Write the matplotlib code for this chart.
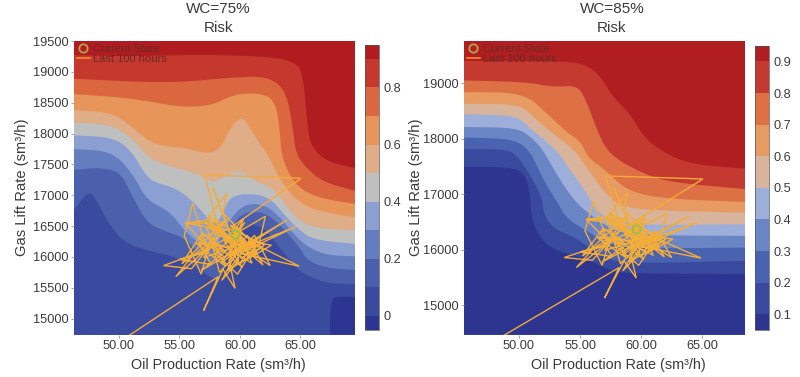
import numpy as np
import matplotlib
matplotlib.use("Agg")
import matplotlib.pyplot as plt
from matplotlib.cm import ScalarMappable
from matplotlib.colors import BoundaryNorm, ListedColormap
from matplotlib.lines import Line2D

plt.rcParams['font.family'] = ['Liberation Sans', 'DejaVu Sans']

# risk level curves as (oil rate, gas lift rate)
left_90 = [(46.3,19270),(51.2,19250),(56.7,19280),(62.2,19250),(64.4,19170),(65.2,19000),(65.6,18060),(65.9,17790),(67.1,17550),(69.5,17440)]
left_80 = [(46.3,18890),(51.2,18840),(55.0,18830),(59.4,18910),(62.2,18930),(63.8,18710),(64.4,18060),(64.6,17680),(65.5,17440),(66.8,17220),(69.5,17070)]
left_70 = [(46.3,18640),(51.2,18570),(55.2,18420),(57.8,18460),(59.4,18630),(61.6,18660),(62.9,18540),(63.3,18060),(63.4,17680),(64.0,17360),(64.9,17110),(66.6,16950),(69.5,16860)]
left_60 = [(46.3,18380),(49.5,18340),(51.2,18090),(52.8,17820),(55.6,17760),(57.5,17660),(58.5,17790),(59.1,18060),(60.1,18290),(60.8,18110),(61.5,17870),(62.4,17630),(63.3,17250),(64.5,16950),(66.0,16760),(69.5,16640)]
left_50 = [(46.3,18180),(49.5,18140),(51.2,17900),(52.6,17570),(54.8,17440),(56.7,17330),(57.8,17190),(58.9,17330),(60.1,17410),(61.3,17220),(62.7,17110),(63.5,16920),(64.6,16630),(66.0,16470),(69.5,16430)]
left_40 = [(46.3,17970),(49.5,17940),(51.0,17730),(52.1,17360),(52.8,17220),(54.8,17110),(56.3,16870),(58.0,16470),(58.9,16870),(59.4,16980),(60.5,17030),(62.4,16980),(63.8,16650),(64.9,16440),(66.0,16280),(69.5,16210)]
left_30 = [(46.3,17750),(49.5,17710),(51.2,17330),(52.3,16920),(54.2,16740),(55.6,16380),(57.8,16060),(58.9,16550),(60.4,16870),(62.2,16840),(63.5,16600),(64.4,16380),(65.5,16170),(67.1,16030),(69.5,16010)]
left_20 = [(46.3,17410),(48.4,17450),(50.1,17380),(51.0,17030),(52.3,16550),(53.9,16410),(55.3,16320),(56.7,16060),(57.8,15840),(58.6,16060),(59.4,16550),(60.5,16740),(62.4,16710),(64.9,16170),(65.5,15950),(67.1,15820),(69.5,15790)]
left_10 = [(46.3,16760),(47.6,17100),(48.4,16820),(49.5,16440),(50.6,16220),(52.3,16110),(54.5,16010),(56.4,15840),(57.8,15630),(58.5,15680),(59.1,16110),(60.4,16550),(61.9,16490),(63.0,16220),(64.1,15950),(65.1,15740),(67.1,15570),(69.5,15560)]
left_00 = [(67.4,14700),(67.5,15280),(67.9,15360),(69.6,15350)]

right_90 = [(45.5,19400),(53.9,19400),(55.6,19320),(56.7,19110),(57.7,18750),(59.1,18450),(60.2,18030),(61.6,17790),(63.2,17610),(65.1,17520),(68.6,17460)]
right_80 = [(45.5,19050),(50.6,19020),(52.8,18930),(54.7,18960),(55.4,18750),(56.7,17970),(57.7,17670),(59.9,17400),(62.1,17220),(68.6,17090)]
right_70 = [(45.5,18840),(50.4,18830),(52.3,18450),(53.9,18120),(55.1,17940),(55.6,17670),(57.1,17430),(58.8,17070),(61.6,16920),(68.6,16860)]
right_60 = [(45.5,18630),(50.1,18620),(51.2,18390),(52.8,18090),(54.6,17790),(55.7,17430),(57.1,17010),(58.4,16770),(61.6,16700),(68.6,16670)]
right_50 = [(45.5,18440),(49.8,18420),(50.8,18210),(53.1,17790),(54.2,17430),(55.4,17070),(56.5,16650),(58.4,16440),(68.6,16460)]
right_40 = [(45.5,18210),(49.8,18200),(51.0,18030),(52.0,17790),(53.2,17310),(54.5,16890),(55.7,16650),(57.7,16350),(59.9,16260),(68.6,16250)]
right_30 = [(45.5,18020),(49.5,18000),(50.9,17790),(52.0,17250),(53.2,16830),(53.9,16560),(55.7,16320),(57.2,16110),(59.4,16020),(68.6,16040)]
right_20 = [(45.5,17810),(49.0,17810),(49.8,17700),(50.6,17460),(51.9,16950),(52.0,16650),(52.8,16380),(54.5,16230),(55.7,16050),(57.2,15840),(58.8,15750),(68.6,15800)]
right_10 = [(45.5,17490),(49.3,17490),(50.5,17370),(50.9,17010),(51.0,16590),(51.7,16200),(52.8,16020),(53.9,15930),(55.8,15810),(57.7,15600),(59.9,15570),(68.6,15560)]

# last 100 hours, same path in both panels
path_x = [46.0,58.2,57.0,58.6,59.6,59.1,60.6,61.9,60.3,62.5,61.2,58.3,57.6,56.8,55.4,56.1,57.2,55.5,57.5,57.7,
          58.6,55.9,53.7,56.0,57.4,54.7,56.0,58.9,59.6,57.5,59.5,58.4,60.9,59.0,61.4,58.6,60.2,57.9,60.8,59.3,
          55.5,58.0,57.4,57.8,58.9,56.9,55.0,57.6,56.6,58.7,56.9,55.2,58.3,57.0,59.4,56.4,58.8,57.2,60.0,56.8,
          63.9,60.3,64.6,60.0,64.9,60.7,62.6,60.5,61.6,62.1,59.5,59.9,58.5,60.2,61.0,59.0,60.4,58.0,59.8,61.3,
          58.7,56.6,59.2,57.9,60.1,61.7,59.4,60.9,58.2,57.1,65.05,59.4,60.4,58.6,59.7,57.75,58.6,58.9,57.1,59.6,
          58.1,60.6,59.2,61.1,60.0,62.0,59.7,60.6,59.1,60.3,58.8,60.9,59.5,60.2,59.2,60.7,59.6,59.3,60.0,59.6]
path_y = [14100,15680,15130,15800,15490,15950,16350,15870,16150,15860,16350,15750,16300,15720,16340,16870,16170,16550,16600,16430,
          16560,16020,15860,15810,16150,15680,16000,16300,16210,16580,16180,15900,16250,15780,16080,16290,15830,16230,16010,16440,
          16540,16560,16680,16440,16610,16060,15960,15880,16240,16100,16390,15890,16350,15990,16150,16220,15850,16480,16280,15780,
          16600,16150,16490,16060,15850,16260,16190,15950,16230,16660,16360,15950,15620,16260,15900,16130,16560,16050,15720,16200,
          16000,16320,16450,16620,15980,16150,16300,16040,16480,17330,17275,16500,16350,16710,16100,17120,16710,17030,16560,16250,
          16380,16090,16520,16240,15890,16190,16420,16170,16050,16620,16270,15980,16490,16120,16330,16210,16450,16280,16350,16380]

left_colors = ['#2C3592','#3A4A9F','#4B60AC','#647DBE','#8C9FD3','#BEBFBF','#DFAD88','#E8955A','#DA6740','#C5382E','#B01C20']
right_colors = ['#2D3590','#39499E','#4A63B0','#6A85C4','#9DAEDB','#D7B49B','#E79A62','#DD7145','#C43A30','#B01E22']
left_bounds = [-0.05, 0, 0.1, 0.2, 0.3, 0.4, 0.5, 0.6, 0.7, 0.8, 0.9, 0.95]
right_bounds = [0.05, 0.1, 0.2, 0.3, 0.4, 0.5, 0.6, 0.7, 0.8, 0.9, 0.95]
left_ticks = [0, 0.2, 0.4, 0.6, 0.8]
right_ticks = [0.1, 0.2, 0.3, 0.4, 0.5, 0.6, 0.7, 0.8, 0.9]
left_yticks = [15000, 15500, 16000, 16500, 17000, 17500, 18000, 18500, 19000, 19500]
right_yticks = [15000, 16000, 17000, 18000, 19000]
xticks = [50, 55, 60, 65]
TEXT = '#3a3a3a'


def smooth(points):
    # corner cutting so the read-off polylines look like contours
    pts = np.array(points, dtype=float)
    for _ in range(3):
        a = pts[:-1] * 0.75 + pts[1:] * 0.25
        b = pts[:-1] * 0.25 + pts[1:] * 0.75
        mid = np.empty((len(a) * 2, 2))
        mid[0::2] = a
        mid[1::2] = b
        pts = np.vstack([pts[0], mid, pts[-1]])
    return pts


def draw_panel(ax, curves, colors, xlim, ylim, yticks):
    ax.set_xlim(xlim)
    ax.set_ylim(ylim)
    ax.set_facecolor(colors[-1])
    # paint from high risk down, each band fills everything under its curve
    for curve, color in zip(curves, colors[::-1][1:]):
        pts = smooth(curve)
        ax.fill(np.r_[pts[:, 0], xlim[1], xlim[0]], np.r_[pts[:, 1], ylim[0], ylim[0]], color=color, lw=0)
    ax.plot(path_x, path_y, color='#F2AC3A', lw=1.0, solid_joinstyle='miter')
    ax.plot(path_x[-1], path_y[-1], 'o', ms=6, mfc='none', mec='#8FC04F', mew=1.2)
    ax.set_xticks(xticks)
    ax.set_xticklabels(['%.2f' % t for t in xticks])
    ax.set_yticks(yticks)
    ax.tick_params(length=2, width=0.6, color='#999999', labelcolor=TEXT, labelsize=9.2, pad=2)
    for s in ax.spines.values():
        s.set_visible(False)
    handles = [Line2D([], [], marker='o', ms=6, mfc='none', mec='#B5A24E', mew=1.3, ls='none'),
               Line2D([], [], color='#F28C28', lw=1.2)]
    ax.legend(handles, ['Current State', 'Last 100 hours'], loc='upper left', frameon=False, fontsize=8,
              labelcolor='#6A2A25', borderaxespad=0.0, borderpad=0.25, labelspacing=0.05,
              handlelength=1.2, handletextpad=0.25)


def draw_bar(fig, rect, colors, bounds, ticks):
    cax = fig.add_axes(rect)
    norm = BoundaryNorm(bounds, len(colors))
    cb = fig.colorbar(ScalarMappable(norm=norm, cmap=ListedColormap(colors)), cax=cax,
                      spacing='proportional', ticks=ticks, drawedges=False)
    cb.ax.minorticks_off()
    cb.ax.set_yticklabels(['%g' % t for t in ticks])
    cb.ax.tick_params(length=0, labelcolor=TEXT, labelsize=9.2, pad=3)
    cb.outline.set_linewidth(0.5)
    cb.outline.set_edgecolor('#555555')


W, H = 800.0, 377.0
fig = plt.figure(figsize=(8, 3.77), dpi=100, facecolor='white')

ax1 = fig.add_axes([74 / W, 1 - 334.7 / H, 281 / W, 293.7 / H])
draw_panel(ax1, [left_90, left_80, left_70, left_60, left_50, left_40, left_30, left_20, left_10, left_00],
           left_colors, (46.3, 69.5), (14740, 19500), left_yticks)
ax2 = fig.add_axes([464 / W, 1 - 334.7 / H, 281 / W, 293.7 / H])
draw_panel(ax2, [right_90, right_80, right_70, right_60, right_50, right_40, right_30, right_20, right_10],
           right_colors, (45.5, 68.5), (14470, 19760), right_yticks)

draw_bar(fig, [365 / W, 1 - 330 / H, 14 / W, 285.3 / H], left_colors, left_bounds, left_ticks)
draw_bar(fig, [755 / W, 1 - 330 / H, 14 / W, 284.3 / H], right_colors, right_bounds, right_ticks)

for cx, title in [(218.7, 'WC=75%'), (612, 'WC=85%')]:
    fig.text(cx / W, 1 - 9 / H, title, ha='center', va='center', fontsize=11, color=TEXT)
    fig.text(cx / W, 1 - 28 / H, 'Risk', ha='center', va='center', fontsize=11, color=TEXT)
for cx in [218, 618]:
    fig.text(cx / W, 1 - 365 / H, 'Oil Production Rate (sm³/h)', ha='center', va='center', fontsize=10.4, color=TEXT)
for cx in [22, 416]:
    fig.text(cx / W, 1 - 187 / H, 'Gas Lift Rate (sm³/h)', ha='center', va='center', rotation=90, fontsize=10.6, color=TEXT)

fig.savefig('out.png', dpi=100)
